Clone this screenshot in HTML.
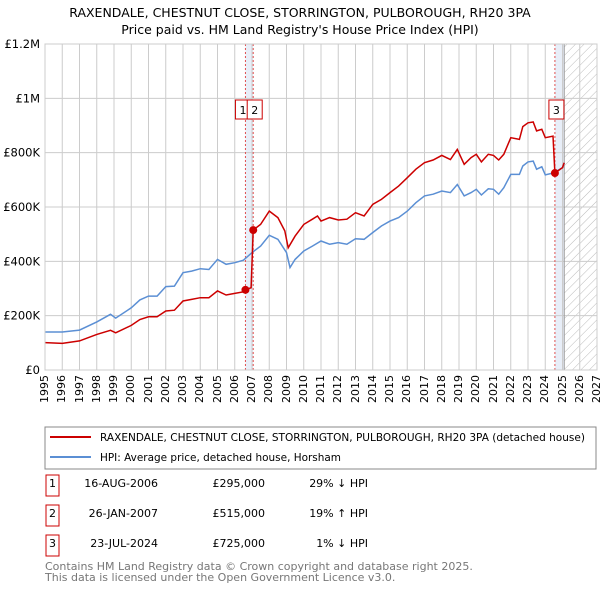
<!DOCTYPE html>
<html><head><meta charset="utf-8"><style>
body{margin:0;background:#fff;font-family:"Liberation Sans","DejaVu Sans",sans-serif;}
svg text{font-family:"DejaVu Sans","Liberation Sans",sans-serif;}
#wrap{position:relative;width:600px;height:590px;overflow:hidden;}
.xl{position:absolute;font-family:"DejaVu Sans","Liberation Sans",sans-serif;font-size:11px;line-height:12px;white-space:nowrap;transform-origin:0 0;transform:rotate(-90deg);text-align:right;width:30px;}
</style></head><body>
<div id="wrap">
<svg id="c" width="600" height="590" xmlns="http://www.w3.org/2000/svg" style="position:absolute;left:0;top:0">
<defs><pattern id="hatch" width="6" height="6" patternUnits="userSpaceOnUse" patternTransform="rotate(45)"><line x1="0" y1="0" x2="0" y2="6" stroke="#bbb" stroke-width="1"/></pattern></defs>
<text x="300" y="17" text-anchor="middle" font-size="12.5">RAXENDALE, CHESTNUT CLOSE, STORRINGTON, PULBOROUGH, RH20 3PA</text>
<text x="300" y="34" text-anchor="middle" font-size="12.5">Price paid vs. HM Land Registry's House Price Index (HPI)</text>
<g id="grid"></g><g id="marks"></g><g id="axes"></g>
<rect x="45" y="427" width="551" height="42" fill="#fff" stroke="#888"/>
<line x1="50" y1="437" x2="91" y2="437" stroke="#cc0000" stroke-width="2"/>
<text x="100" y="441" font-size="11" textLength="485" lengthAdjust="spacingAndGlyphs">RAXENDALE, CHESTNUT CLOSE, STORRINGTON, PULBOROUGH, RH20 3PA (detached house)</text>
<line x1="50" y1="457" x2="91" y2="457" stroke="#5b8fd4" stroke-width="2"/>
<text x="100" y="461" font-size="11" textLength="241" lengthAdjust="spacingAndGlyphs">HPI: Average price, detached house, Horsham</text>
<g font-size="11" id="table"></g>
<text x="45" y="570" font-size="11" fill="#777">Contains HM Land Registry data © Crown copyright and database right 2025.</text>
<text x="45" y="581" font-size="11" fill="#777">This data is licensed under the Open Government Licence v3.0.</text>
</svg>
</div>
<script>
const hpiYears=[1995,1996,1997,1998,1998.8,1999.1,2000,2000.5,2001,2001.5,2002,2002.5,2003,2003.5,2004,2004.5,2005,2005.5,2006,2006.5,2007,2007.5,2008,2008.5,2009,2009.2,2009.5,2010,2010.5,2011,2011.5,2012,2012.5,2013,2013.5,2014,2014.5,2015,2015.5,2016,2016.5,2017,2017.5,2018,2018.5,2018.9,2019.3,2019.7,2020,2020.3,2020.7,2021,2021.3,2021.6,2022,2022.5,2022.7,2023,2023.3,2023.5,2023.8,2024,2024.5,2025,2025.1];
const hpiValues=[140,140,147,177,205,191,229,258,272,272,307,309,358,364,373,370,407,389,395,404,432,456,496,481,432,377,407,438,456,475,463,469,463,483,481,506,530,548,561,585,616,641,647,659,653,683,641,653,665,644,667,665,647,671,720,720,751,766,769,739,748,718,726,745,763];
const priceYears=[1995,1996,1997,1998,1998.8,1999.1,2000,2000.5,2001,2001.5,2002,2002.5,2003,2003.5,2004,2004.5,2005,2005.5,2006,2006.5,2006.62,2006.95,2007.07,2007.5,2008,2008.5,2008.9,2009.1,2009.5,2010,2010.5,2010.8,2011,2011.5,2012,2012.5,2013,2013.5,2014,2014.5,2015,2015.5,2016,2016.5,2017,2017.5,2018,2018.5,2018.9,2019.3,2019.7,2020,2020.3,2020.7,2021,2021.3,2021.6,2022,2022.5,2022.7,2023,2023.3,2023.5,2023.8,2024,2024.45,2024.56,2025,2025.1];
const priceValues=[101,98,107,131,146,137,164,186,196,196,217,220,254,260,266,266,291,276,282,288,295,303,515,536,585,561,512,450,493,536,555,567,548,561,552,555,579,567,610,628,653,677,708,739,763,773,790,775,812,757,782,794,766,794,790,773,794,855,849,896,910,913,880,886,855,861,725,745,763];
const saleYears=[2006.62,2007.07,2024.56];
const saleValues=[295,515,725];
const saleLabels=["1","2","3"];
const saleDates=["16-AUG-2006","26-JAN-2007","23-JUL-2024"];
const salePrices=["£295,000","£515,000","£725,000"];
const saleHpi=["29% ↓ HPI","19% ↑ HPI","1% ↓ HPI"];
const yTicks=[0,200,400,600,800,1000,1200];
const yTickLabels=["£0","£200K","£400K","£600K","£800K","£1M","£1.2M"];
const NS="http://www.w3.org/2000/svg";
const X0=45,X1=597,Y0=370,Y1=44;
const xs=y=>X0+(y-1995)*(X1-X0)/32;
const ys=v=>Y0-v*(Y0-Y1)/1200;
function el(tag,attrs,parent){const e=document.createElementNS(NS,tag);for(const k in attrs)e.setAttribute(k,attrs[k]);parent.appendChild(e);return e;}
const grid=document.getElementById('grid'),marks=document.getElementById('marks'),axes=document.getElementById('axes'),table=document.getElementById('table');
const wrap=document.getElementById('wrap');
let h=el('rect',{x:xs(2025.1),y:Y1,width:X1-xs(2025.1),height:Y0-Y1,fill:'url(#hatch)'},grid);


let b1=el('rect',{x:xs(saleYears[0]),y:Y1,width:xs(saleYears[1])-xs(saleYears[0]),height:Y0-Y1,fill:'#e8eef8'},grid);


let b2=el('rect',{x:xs(saleYears[2]),y:Y1,width:xs(2025.1)-xs(saleYears[2]),height:Y0-Y1,fill:'#e8eef8'},grid);


for(let yr=1995;yr<=2027;yr++){
 el('line',{x1:xs(yr),y1:Y1,x2:xs(yr),y2:Y0,stroke:'#ccc'},grid);
 const d=document.createElement('div');
 d.className='xl';
 d.textContent=yr;
 // rotated -90 about top-left: box occupies x in [left, left+12], y in [top-30, top]
 d.style.left=(xs(yr)-6).toFixed(1)+'px';
 d.style.top='405px';
 
 
 wrap.appendChild(d);
}
yTicks.forEach((v,i)=>{
 el('line',{x1:X0,y1:ys(v),x2:X1,y2:ys(v),stroke:'#ccc'},grid);
 const t=el('text',{x:40,y:ys(v)+4,'font-size':11.5,'text-anchor':'end'},axes);
 t.textContent=yTickLabels[i];
 
 
});
el('line',{x1:xs(2025.1),y1:Y1,x2:xs(2025.1),y2:Y0,stroke:'#999'},grid);
saleYears.forEach((y,i)=>{
 const l=el('line',{x1:xs(y),y1:Y1,x2:xs(y),y2:Y0,stroke:'#e05050','stroke-dasharray':'2,2'},grid);
 
 
});
const path=(xsA,vs)=>xsA.map((y,i)=>(i?'L':'M')+xs(y).toFixed(1)+','+ys(vs[i]).toFixed(1)).join('');
let hp=el('path',{d:path(hpiYears,hpiValues),fill:'none',stroke:'#5b8fd4','stroke-width':1.5},marks);


let pp=el('path',{d:path(priceYears,priceValues),fill:'none',stroke:'#cc0000','stroke-width':1.5},marks);


saleYears.forEach((y,i)=>{
 const c=el('circle',{cx:xs(y),cy:ys(saleValues[i]),r:4,fill:'#cc0000'},marks);
 
 
});
const boxX=[xs(saleYears[0])-10,xs(saleYears[1])-6,xs(saleYears[2])-6];
saleLabels.forEach((s,i)=>{
 const g=el('g',{},marks);
 
 
 el('rect',{x:boxX[i],y:100,width:15,height:19,fill:'#fff',stroke:'#cc0000'},g);
 const t=el('text',{x:boxX[i]+7.5,y:114,'font-size':11,'text-anchor':'middle'},g);t.textContent=s;
});
el('rect',{x:X0,y:Y1,width:X1-X0,height:Y0-Y1,fill:'none',stroke:'#ccc'},axes);
const rowY=[490,520,550];
saleLabels.forEach((s,i)=>{
 const g=el('g',{},table);
 
 
 el('rect',{x:46,y:rowY[i]-15,width:13,height:21,fill:'#fff',stroke:'#cc0000'},g);
 let t=el('text',{x:52.5,y:rowY[i]-3,'text-anchor':'middle'},g);t.textContent=s;
 t=el('text',{x:158,y:rowY[i]-3,'text-anchor':'end'},g);t.textContent=saleDates[i];
 t=el('text',{x:265,y:rowY[i]-3,'text-anchor':'end'},g);t.textContent=salePrices[i];
 t=el('text',{x:368,y:rowY[i]-3,'text-anchor':'end'},g);t.textContent=saleHpi[i];
});
</script>
</body></html>
